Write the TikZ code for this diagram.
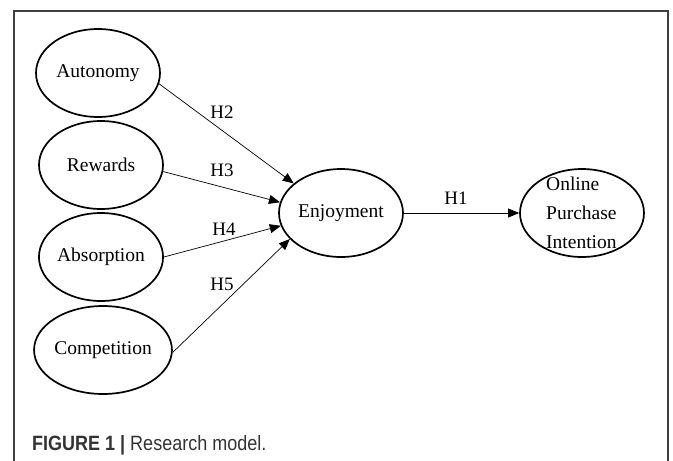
\documentclass[tikz,border=0pt]{standalone}
\usepackage{fontspec}
\setmainfont{Liberation Serif}
\newfontfamily\capfont{Liberation Sans}
\usetikzlibrary{shapes.geometric,arrows.meta}
\begin{document}
\begin{tikzpicture}[x=1pt,y=-1pt,
  latent/.style={ellipse,draw,line width=1.7pt,minimum width=124pt,minimum height=88pt,inner sep=0pt,font=\fontsize{19.5}{23}\selectfont},
  hpath/.style={-{Triangle[length=11pt,width=9pt]},line width=0.7pt},
  hlab/.style={font=\fontsize{19}{23}\selectfont,inner sep=1pt}]
\useasboundingbox (0,0) rectangle (673,461);
\draw[black!75,line width=1.2pt] (14,461) -- (14,11) -- (668,11) -- (668,461);
\node[latent] (aut) at (98,73) {Autonomy};
\node[latent] (rew) at (101,165) {Rewards};
\node[latent] (abs) at (101,257) {Absorption};
\node[latent] (com) at (103,350) {Competition};
\node[latent] (enj) at (341,213) {Enjoyment};
\node[latent] (opi) at (582,213) {};
\node[anchor=west,align=left,inner sep=0pt,font=\fontsize{19.5}{29}\selectfont] (opit) at (546,213) {Online\\Purchase\\Intention};
\draw[hpath] (aut.-10) -- (enj.148);
\draw[hpath] (rew.-6) -- (enj.170);
\draw[hpath] (abs.0) -- (enj.192);
\draw[hpath] (com.-2) -- (enj.207);
\draw[hpath] (enj.east) -- (opi.west);
\node[hlab] (h2) at (222,112) {H2};
\node[hlab] (h3) at (222,170) {H3};
\node[hlab] (h4) at (224,229) {H4};
\node[hlab] (h5) at (222,284) {H5};
\node[hlab] (h1) at (456,198) {H1};
\node[anchor=base west,inner sep=0pt,text=black!80,font=\capfont\fontsize{18}{22}\selectfont] (cap) at (32,450) {\scalebox{1}[1.15]{\textbf{FIGURE 1 |} Research model.}};
\end{tikzpicture}
\end{document}
